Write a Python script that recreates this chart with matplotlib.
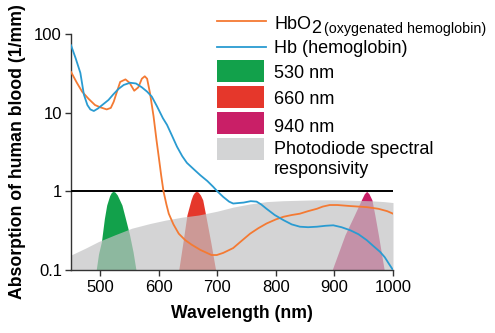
import matplotlib
matplotlib.use("Agg")
import matplotlib.pyplot as plt
from matplotlib.lines import Line2D
from matplotlib.patches import Rectangle

plt.rcParams['font.family'] = ['Liberation Sans', 'DejaVu Sans']

# absorption curves (wavelength nm, 1/mm)
hb_wl = [450, 458, 466, 472, 478, 483, 489, 496, 505, 514, 522, 531, 540, 551,
         561, 571, 580, 588, 597, 607, 614, 622, 631, 640, 648, 660, 671, 683,
         693, 700, 710, 720, 727, 736, 745, 757, 767, 775, 784, 798, 813, 827,
         841, 855, 870, 885, 898, 912, 927, 941, 955, 967, 978, 986, 993, 1000]
hb_val = [72, 49, 32, 17, 12.5, 11, 10.5, 11.3, 12.8, 14.5, 17, 20, 22.5, 24,
          23.5, 21, 18.5, 16, 12, 8.5, 7.0, 5.2, 3.7, 2.8, 2.3, 1.9, 1.6, 1.35,
          1.14, 1.0, 0.85, 0.74, 0.70, 0.71, 0.72, 0.75, 0.74, 0.68, 0.60, 0.50,
          0.43, 0.38, 0.355, 0.35, 0.355, 0.365, 0.37, 0.35, 0.32, 0.285, 0.24,
          0.20, 0.17, 0.145, 0.12, 0.1]

hbo2_wl = [450, 460, 469, 480, 491, 500, 511, 518, 523, 528, 534, 543, 550, 558,
           565, 571, 576, 580, 585, 591, 596, 600, 604, 608, 613, 617, 625, 634,
           645, 656, 671, 690, 699, 710, 727, 740, 756, 770, 784, 800, 813, 827,
           841, 855, 870, 880, 892, 905, 927, 955, 975, 990, 1000]
hbo2_val = [33, 24, 18.5, 15, 12.5, 11.7, 11, 11.5, 13.8, 18, 24.6, 26.5, 24, 19,
            21, 27, 29, 27, 17.6, 9, 4.5, 2.7, 1.6, 1.0, 0.68, 0.52, 0.38, 0.29,
            0.24, 0.21, 0.18, 0.155, 0.155, 0.165, 0.19, 0.23, 0.29, 0.34, 0.39,
            0.44, 0.475, 0.5, 0.52, 0.56, 0.60, 0.64, 0.67, 0.67, 0.65, 0.63,
            0.60, 0.56, 0.52]

# photodiode responsivity (upper edge of grey area)
pd_wl = [450, 475, 497, 525, 554, 585, 611, 640, 668, 700, 727, 755, 784, 812,
         841, 870, 898, 930, 960, 985, 1000]
pd_val = [0.155, 0.19, 0.23, 0.28, 0.34, 0.39, 0.43, 0.47, 0.50, 0.56, 0.63,
          0.69, 0.74, 0.76, 0.77, 0.78, 0.78, 0.77, 0.76, 0.74, 0.72]

# LED emission outlines
led530_wl = [493, 497, 502, 507, 511, 516, 519, 522, 525, 529, 537, 543, 550, 556, 561]
led530_val = [0.1, 0.16, 0.23, 0.45, 0.67, 0.88, 0.97, 1.0, 0.98, 0.9, 0.67, 0.45, 0.28, 0.17, 0.1]
led660_wl = [634, 641, 648, 655, 658, 661, 664, 667, 671, 675, 680, 689, 697]
led660_val = [0.1, 0.22, 0.5, 0.78, 0.9, 0.97, 1.0, 0.98, 0.9, 0.78, 0.5, 0.22, 0.1]
led940_wl = [896, 918, 934, 946, 951, 955, 959, 964, 969, 975, 985]
led940_val = [0.1, 0.28, 0.5, 0.78, 0.93, 1.0, 0.93, 0.78, 0.5, 0.28, 0.1]

x_ticks = [500, 600, 700, 800, 900, 1000]
y_ticks = [0.1, 1, 10, 100]
y_ticklabels = ['0.1', '1', '10', '100']

c_hbo2 = '#f47a33'
c_hb = '#2a9bd1'
c_530 = '#12a14b'
c_660 = '#e5372b'
c_940 = '#c91f67'
c_pd = '#d3d4d5'

W, H = 495, 333
fig = plt.figure(figsize=(W / 100, H / 100), dpi=100)
ax = fig.add_axes([71 / W, 1 - 270 / H, 322 / W, 236 / H])

for wl, val, c in [(led530_wl, led530_val, c_530),
                   (led660_wl, led660_val, c_660),
                   (led940_wl, led940_val, c_940)]:
    ax.fill_between(wl, 0.1, val, color=c, lw=0, zorder=1)

# grey drawn translucent so the LEDs show through, white under it gives c_pd
ax.fill_between(pd_wl, 0.1, pd_val, color='#c2c3c4', alpha=0.7, lw=0, zorder=2)

ax.axhline(1, color='black', lw=1.4, zorder=3)
ax.plot(hbo2_wl, hbo2_val, color=c_hbo2, lw=1.3, zorder=4)
ax.plot(hb_wl, hb_val, color=c_hb, lw=1.3, zorder=5)

ax.set_yscale('log')
ax.set_xlim(450, 1000)
ax.set_ylim(0.1, 100)
ax.set_xticks(x_ticks)
ax.set_yticks(y_ticks)
ax.set_yticklabels(y_ticklabels)
ax.minorticks_off()
ax.tick_params(labelsize=12, length=4, width=1, color='#333333')
ax.tick_params(axis='x', pad=3.5)
ax.tick_params(axis='y', pad=2.5)
for s in ['top', 'right']:
    ax.spines[s].set_visible(False)
for s in ['left', 'bottom']:
    ax.spines[s].set_color('#333333')
    ax.spines[s].set_linewidth(1)

ax.set_xlabel('Wavelength (nm)', fontsize=12.7, fontweight='bold')
ax.xaxis.set_label_coords(0.53, -0.15)
ax.set_ylabel('Absorption of human blood (1/mm)', fontsize=12.7,
              fontweight='bold', va='center')
ax.yaxis.set_label_coords(-0.165, 0.5)

# legend built by hand in pixel positions
def fx(x):
    return x / W

def fy(y):
    return 1 - y / H

fs = 13
fig.add_artist(Line2D([fx(217), fx(266)], [fy(20.5), fy(20.5)], color=c_hbo2, lw=1.3))
fig.add_artist(Line2D([fx(217), fx(266)], [fy(47.3), fy(47.3)], color=c_hb, lw=1.3))
patches = [(60, c_530), (86, c_660), (112.3, c_940), (138.3, c_pd)]
for top, c in patches:
    fig.add_artist(Rectangle((fx(217), fy(top + 21.5)), 47 / W, 21.5 / H,
                             color=c, lw=0))

t1 = fig.text(fx(274), fy(29), 'HbO', fontsize=fs, va='baseline')
fig.canvas.draw()
r = fig.canvas.get_renderer()
x2 = t1.get_window_extent(r).x1 + 0.5
t2 = fig.text(x2 / W, fy(33.3), '2', fontsize=fs, va='baseline')
x3 = t2.get_window_extent(r).x1 + 3
fig.text(x3 / W, fy(33), '(oxygenated hemoglobin)', fontsize=10.3, va='baseline')
fig.text(fx(274), fy(53.3), 'Hb (hemoglobin)', fontsize=fs, va='baseline')
fig.text(fx(274), fy(78.3), '530 nm', fontsize=fs, va='baseline')
fig.text(fx(274), fy(104), '660 nm', fontsize=fs, va='baseline')
fig.text(fx(274), fy(131.7), '940 nm', fontsize=fs, va='baseline')
fig.text(fx(274), fy(154), 'Photodiode spectral', fontsize=fs, va='baseline')
fig.text(fx(274), fy(174.5), 'responsivity', fontsize=fs, va='baseline')

fig.savefig('out.png', dpi=100)
